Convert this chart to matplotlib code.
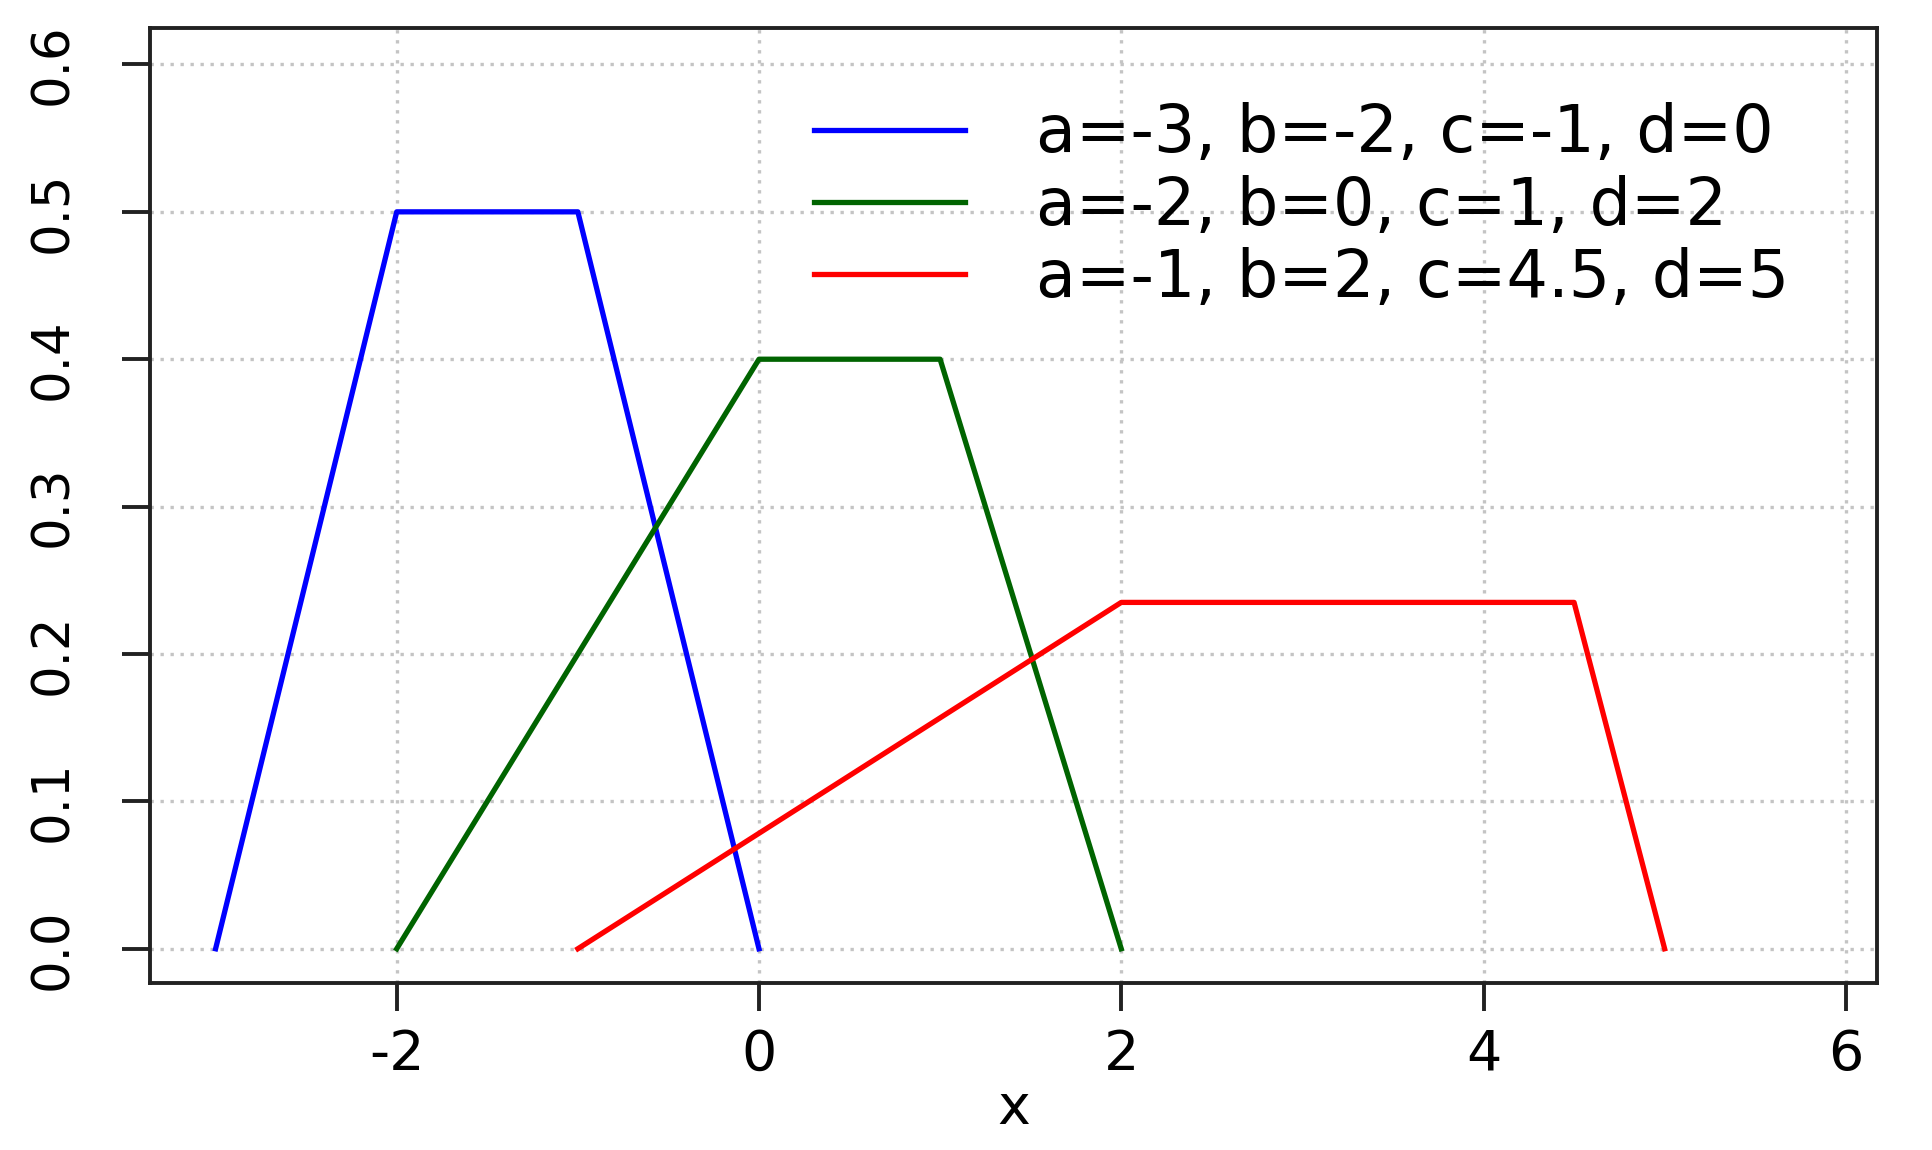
import matplotlib.pyplot as plt

plt.rcParams["font.family"] = ["DejaVu Sans"]

# corner points of each trapezoid (x at a, b, c, d)
x_blue = [-3, -2, -1, 0]
y_blue = [0.0, 0.5, 0.5, 0.0]
x_green = [-2, 0, 1, 2]
y_green = [0.0, 0.4, 0.4, 0.0]
x_red = [-1, 2, 4.5, 5]
y_red = [0.0, 0.235, 0.235, 0.0]

labels = [
    "a=-3, b=-2, c=-1, d=0",
    "a=-2, b=0, c=1, d=2",
    "a=-1, b=2, c=4.5, d=5",
]
x_ticks = [-2, 0, 2, 4, 6]
y_ticks = [0.0, 0.1, 0.2, 0.3, 0.4, 0.5, 0.6]


def main():
    fig = plt.figure(figsize=(19.33, 11.5), dpi=100)
    ax = fig.add_axes([0.0778, 0.145, 0.893, 0.831])

    ax.plot(x_blue, y_blue, color="blue", lw=3.8, label=labels[0])
    ax.plot(x_green, y_green, color="darkgreen", lw=3.8, label=labels[1])
    ax.plot(x_red, y_red, color="red", lw=3.8, label=labels[2])

    ax.set_xlim(-3.36, 6.17)
    ax.set_ylim(-0.0234, 0.625)
    ax.set_xticks(x_ticks)
    ax.set_xticklabels([str(t) for t in x_ticks])
    ax.set_yticks(y_ticks)
    ax.set_yticklabels([f"{t:.1f}" for t in y_ticks], rotation=90, va="center")

    ax.grid(True, color="#c4c4c4", linestyle=(0, (1, 2)), lw=2.4)
    ax.set_axisbelow(True)

    for s in ax.spines.values():
        s.set_linewidth(2.8)
        s.set_color("#222222")
    ax.tick_params(axis="both", length=20, width=2.8, color="#222222")
    ax.tick_params(axis="x", labelsize=40, pad=12)
    ax.tick_params(axis="y", labelsize=37, pad=32)

    ax.set_xlabel("x", fontsize=40, labelpad=0)

    ax.legend(loc="upper left", bbox_to_anchor=(0.421, 0.911),
              bbox_transform=fig.transFigure, frameon=False,
              fontsize=47, handlelength=2.32, handletextpad=1.09,
              labelspacing=0.13, borderpad=0, borderaxespad=0)

    fig.savefig("out.png", dpi=100)


if __name__ == "__main__":
    main()
